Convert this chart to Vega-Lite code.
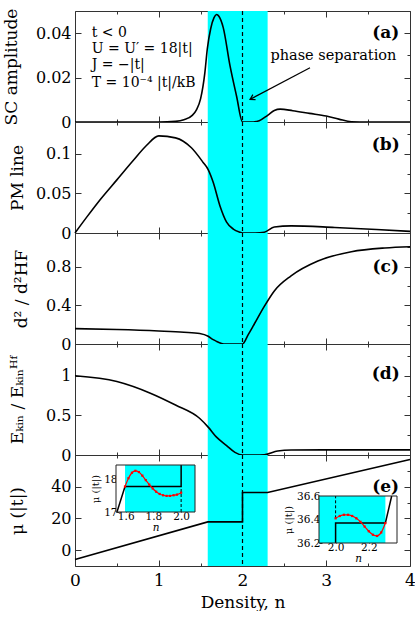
{
"$schema": "https://vega.github.io/schema/vega-lite/v6.json",
"padding": {"left": 1, "top": 7, "right": 0, "bottom": 0},
"spacing": 0,
"bounds": "flush",
"datasets": {
"sc": [{"n":0,"v":0},{"n":1.0,"v":0},{"n":1.2,"v":0.0003},{"n":1.3,"v":0.001},{"n":1.4,"v":0.003},{"n":1.45,"v":0.0055},{"n":1.5,"v":0.0105},{"n":1.55,"v":0.022},{"n":1.58,"v":0.033},{"n":1.62,"v":0.042},{"n":1.66,"v":0.047},{"n":1.69,"v":0.0484},{"n":1.72,"v":0.0475},{"n":1.77,"v":0.0425},{"n":1.85,"v":0.0255},{"n":1.93,"v":0.0115},{"n":2.0,"v":0},{"n":2.1,"v":0},{"n":2.2,"v":0.0006},{"n":2.3,"v":0.003},{"n":2.38,"v":0.0052},{"n":2.45,"v":0.0058},{"n":2.6,"v":0.0051},{"n":2.8,"v":0.0039},{"n":3.0,"v":0.0027},{"n":3.15,"v":0.0013},{"n":3.3,"v":0.0001},{"n":3.5,"v":0},{"n":4,"v":0}],
"pm": [{"n":0,"v":0},{"n":0.14,"v":0.02},{"n":0.3,"v":0.042},{"n":0.5,"v":0.067},{"n":0.7,"v":0.092},{"n":0.85,"v":0.11},{"n":1.0,"v":0.1225},{"n":1.2,"v":0.12},{"n":1.39,"v":0.1075},{"n":1.53,"v":0.089},{"n":1.59,"v":0.08},{"n":1.65,"v":0.064},{"n":1.73,"v":0.0345},{"n":1.81,"v":0.0138},{"n":1.89,"v":0.005},{"n":1.97,"v":0.001},{"n":2.0,"v":0},{"n":2.15,"v":0},{"n":2.26,"v":0.001},{"n":2.38,"v":0.0075},{"n":2.58,"v":0.009},{"n":3.1,"v":0.007},{"n":3.6,"v":0.0045},{"n":4,"v":0.002}],
"d2": [{"n":0,"v":0.159},{"n":0.5,"v":0.15},{"n":1.0,"v":0.135},{"n":1.3,"v":0.122},{"n":1.49,"v":0.108},{"n":1.59,"v":0.08},{"n":1.65,"v":0.045},{"n":1.69,"v":0.027},{"n":1.75,"v":0.006},{"n":1.8,"v":0},{"n":2.0,"v":0},{"n":2.07,"v":0.1},{"n":2.13,"v":0.19},{"n":2.26,"v":0.39},{"n":2.38,"v":0.55},{"n":2.58,"v":0.706},{"n":2.9,"v":0.86},{"n":3.3,"v":0.956},{"n":3.7,"v":0.995},{"n":4,"v":1.008}],
"ek": [{"n":0,"v":1.0},{"n":0.5,"v":0.927},{"n":0.9,"v":0.78},{"n":1.2,"v":0.63},{"n":1.49,"v":0.46},{"n":1.59,"v":0.352},{"n":1.69,"v":0.225},{"n":1.81,"v":0.119},{"n":1.91,"v":0.033},{"n":2.0,"v":0},{"n":2.15,"v":0},{"n":2.26,"v":0.004},{"n":2.42,"v":0.05},{"n":2.58,"v":0.064},{"n":3,"v":0.065},{"n":4,"v":0.065}],
"mu": [{"n":0,"v":-5.85},{"n":1.585,"v":17.8},{"n":2.0,"v":17.8},{"n":2.0,"v":36.37},{"n":2.3,"v":36.37},{"n":4,"v":57.2}],
"in1k": [{"n":1.537,"v":17},{"n":1.595,"v":17.79},{"n":2.0,"v":17.79},{"n":2.0,"v":18.46}],
"in1r": [{"n":1.595,"v":17.79},{"n":1.62,"v":18.05},{"n":1.645,"v":18.22},{"n":1.67,"v":18.28},{"n":1.695,"v":18.24},{"n":1.72,"v":18.13},{"n":1.745,"v":17.99},{"n":1.77,"v":17.85},{"n":1.795,"v":17.73},{"n":1.82,"v":17.63},{"n":1.845,"v":17.56},{"n":1.87,"v":17.52},{"n":1.895,"v":17.5},{"n":1.92,"v":17.5},{"n":1.945,"v":17.52},{"n":1.97,"v":17.54},{"n":2.0,"v":17.6}],
"in2k": [{"n":2.0,"v":36.2},{"n":2.0,"v":36.37},{"n":2.3,"v":36.37},{"n":2.338,"v":36.6}],
"in2r": [{"n":2.0,"v":36.41},{"n":2.025,"v":36.43},{"n":2.05,"v":36.44},{"n":2.075,"v":36.44},{"n":2.1,"v":36.43},{"n":2.125,"v":36.41},{"n":2.15,"v":36.38},{"n":2.175,"v":36.34},{"n":2.2,"v":36.3},{"n":2.225,"v":36.27},{"n":2.25,"v":36.26},{"n":2.275,"v":36.29},{"n":2.3,"v":36.37}]
},
"vconcat": [
{
"width": 335, "height": 111,
"layer": [
{"layer": [
{"data": {"values": [{"a": 1.585, "b": 2.3}]}, "mark": {"type": "rect", "color": "#00ffff"},
 "encoding": {"x": {"field": "a", "type": "quantitative", "scale": {"domain": [0, 4], "nice": false}, "axis": {"orient": "bottom", "values": [0,0.5,1,1.5,2,2.5,3,3.5,4], "labels": false, "title": null, "tickSize": {"condition": {"test": "datum.value % 1 == 0", "value": -6}, "value": -3}}}, "x2": {"field": "b"}}},
{"data": {"values": [{"a": 2}]}, "mark": {"type": "rule", "color": "black", "strokeDash": [4, 3], "strokeWidth": 1.2}, "encoding": {"x": {"field": "a", "type": "quantitative"}}},
{"data": {"name": "sc"}, "mark": {"type": "line", "color": "black", "strokeWidth": 1.6, "interpolate": "monotone"},
 "encoding": {"x": {"field": "n", "type": "quantitative"}, "y": {"field": "v", "type": "quantitative", "scale": {"domain": [0, 0.05], "nice": false}, "axis": {"orient": "left", "values": [0,0.01,0.02,0.03,0.04,0.05], "labelExpr": "(datum.value == 0 || datum.value == 0.02 || datum.value == 0.04) ? format(datum.value, '~g') : ''", "tickSize": {"condition": {"test": "datum.value == 0 || datum.value == 0.02 || datum.value == 0.04", "value": -6}, "value": -3}, "title": "SC amplitude", "titleX": -55}}}},
{"data": {"values": [{"n": 0.2, "v": 0.0403, "label": "t < 0"}, {"n": 0.2, "v": 0.0327, "label": "U = U′ = 18|t|"}, {"n": 0.2, "v": 0.0259, "label": "J = −|t|"}, {"n": 0.2, "v": 0.0174, "label": "T = 10⁻⁴ |t|/kB"}]},
 "mark": {"type": "text", "align": "left", "baseline": "middle", "fontSize": 14, "font": "DejaVu Serif"},
 "encoding": {"x": {"field": "n", "type": "quantitative"}, "y": {"field": "v", "type": "quantitative"}, "text": {"field": "label"}}},
{"data": {"values": [{"n": 3.085, "v": 0.0297, "label": "phase separation"}]},
 "mark": {"type": "text", "align": "center", "baseline": "middle", "fontSize": 14.5, "font": "DejaVu Serif"},
 "encoding": {"x": {"field": "n", "type": "quantitative"}, "y": {"field": "v", "type": "quantitative"}, "text": {"field": "label"}}},
{"data": {"values": [{"n": 2.806, "v": 0.02445, "n2": 2.09, "v2": 0.0102}]}, "mark": {"type": "rule", "color": "black", "strokeWidth": 1.2},
 "encoding": {"x": {"field": "n", "type": "quantitative"}, "y": {"field": "v", "type": "quantitative"}, "x2": {"field": "n2"}, "y2": {"field": "v2"}}},
{"data": {"values": [{"n": 2.09, "v": 0.0102}]}, "mark": {"type": "point", "shape": "M -1 -0.6 L 0 0 L -1 0.6", "filled": false, "stroke": "black", "strokeWidth": 1.2, "size": 90, "angle": 152, "opacity": 1},
 "encoding": {"x": {"field": "n", "type": "quantitative"}, "y": {"field": "v", "type": "quantitative"}}},
{"data": {"values": [{"n": 3.71, "v": 0.0402, "label": "(a)"}]},
 "mark": {"type": "text", "align": "center", "baseline": "middle", "fontSize": 17, "fontWeight": "bold", "font": "DejaVu Serif"},
 "encoding": {"x": {"field": "n", "type": "quantitative"}, "y": {"field": "v", "type": "quantitative"}, "text": {"field": "label"}}}
]},
{"data": {"name": "sc"}, "mark": {"type": "point", "opacity": 0},
 "encoding": {"x": {"field": "n", "type": "quantitative", "scale": {"domain": [0, 4], "nice": false}, "axis": {"orient": "top", "values": [0,0.5,1,1.5,2,2.5,3,3.5,4], "labels": false, "title": null, "tickSize": {"condition": {"test": "datum.value % 1 == 0", "value": -6}, "value": -3}}},
  "y": {"field": "v", "type": "quantitative", "scale": {"domain": [0, 0.05], "nice": false}, "axis": {"orient": "right", "values": [0,0.01,0.02,0.03,0.04,0.05], "labels": false, "title": null, "tickSize": {"condition": {"test": "datum.value == 0 || datum.value == 0.02 || datum.value == 0.04", "value": -6}, "value": -3}}}}}
],
"resolve": {"scale": {"x": "independent", "y": "independent"}}
},
{
"width": 335, "height": 111,
"layer": [
{"layer": [
{"data": {"values": [{"a": 1.585, "b": 2.3}]}, "mark": {"type": "rect", "color": "#00ffff"},
 "encoding": {"x": {"field": "a", "type": "quantitative", "scale": {"domain": [0, 4], "nice": false}, "axis": {"orient": "bottom", "values": [0,0.5,1,1.5,2,2.5,3,3.5,4], "labels": false, "title": null, "tickSize": {"condition": {"test": "datum.value % 1 == 0", "value": -6}, "value": -3}}}, "x2": {"field": "b"}}},
{"data": {"values": [{"a": 2}]}, "mark": {"type": "rule", "color": "black", "strokeDash": [4, 3], "strokeWidth": 1.2}, "encoding": {"x": {"field": "a", "type": "quantitative"}}},
{"data": {"name": "pm"}, "mark": {"type": "line", "color": "black", "strokeWidth": 1.6, "interpolate": "monotone"},
 "encoding": {"x": {"field": "n", "type": "quantitative"}, "y": {"field": "v", "type": "quantitative", "scale": {"domain": [0, 0.14], "nice": false}, "axis": {"orient": "left", "values": [0,0.025,0.05,0.075,0.1,0.125], "labelExpr": "(datum.value == 0 || datum.value == 0.05 || datum.value == 0.1) ? format(datum.value, '~g') : ''", "tickSize": {"condition": {"test": "datum.value == 0 || datum.value == 0.05 || datum.value == 0.1", "value": -6}, "value": -3}, "title": "PM line", "titleX": -49}}}},
{"data": {"values": [{"n": 3.71, "v": 0.1116, "label": "(b)"}]},
 "mark": {"type": "text", "align": "center", "baseline": "middle", "fontSize": 17, "fontWeight": "bold", "font": "DejaVu Serif"},
 "encoding": {"x": {"field": "n", "type": "quantitative"}, "y": {"field": "v", "type": "quantitative"}, "text": {"field": "label"}}}
]},
{"data": {"name": "pm"}, "mark": {"type": "point", "opacity": 0},
 "encoding": {"x": {"field": "n", "type": "quantitative", "scale": {"domain": [0, 4], "nice": false}, "axis": {"orient": "top", "values": [0,0.5,1,1.5,2,2.5,3,3.5,4], "labels": false, "title": null, "tickSize": {"condition": {"test": "datum.value % 1 == 0", "value": -6}, "value": -3}}},
  "y": {"field": "v", "type": "quantitative", "scale": {"domain": [0, 0.14], "nice": false}, "axis": {"orient": "right", "values": [0,0.025,0.05,0.075,0.1,0.125], "labels": false, "title": null, "tickSize": {"condition": {"test": "datum.value == 0 || datum.value == 0.05 || datum.value == 0.1", "value": -6}, "value": -3}}}}}
],
"resolve": {"scale": {"x": "independent", "y": "independent"}}
},
{
"width": 335, "height": 111,
"layer": [
{"layer": [
{"data": {"values": [{"a": 1.585, "b": 2.3}]}, "mark": {"type": "rect", "color": "#00ffff"},
 "encoding": {"x": {"field": "a", "type": "quantitative", "scale": {"domain": [0, 4], "nice": false}, "axis": {"orient": "bottom", "values": [0,0.5,1,1.5,2,2.5,3,3.5,4], "labels": false, "title": null, "tickSize": {"condition": {"test": "datum.value % 1 == 0", "value": -6}, "value": -3}}}, "x2": {"field": "b"}}},
{"data": {"values": [{"a": 2}]}, "mark": {"type": "rule", "color": "black", "strokeDash": [4, 3], "strokeWidth": 1.2}, "encoding": {"x": {"field": "a", "type": "quantitative"}}},
{"data": {"name": "d2"}, "mark": {"type": "line", "color": "black", "strokeWidth": 1.6, "interpolate": "monotone"},
 "encoding": {"x": {"field": "n", "type": "quantitative"}, "y": {"field": "v", "type": "quantitative", "scale": {"domain": [0, 1.15], "nice": false}, "axis": {"orient": "left", "values": [0,0.2,0.4,0.6,0.8,1.0], "labelExpr": "(datum.value == 0 || datum.value == 0.4 || datum.value == 0.8) ? format(datum.value, '~g') : ''", "tickSize": {"condition": {"test": "datum.value == 0 || datum.value == 0.4 || datum.value == 0.8", "value": -6}, "value": -3}, "title": "d² / d²HF", "titleX": -45}}}},
{"data": {"values": [{"n": 3.71, "v": 0.8, "label": "(c)"}]},
 "mark": {"type": "text", "align": "center", "baseline": "middle", "fontSize": 17, "fontWeight": "bold", "font": "DejaVu Serif"},
 "encoding": {"x": {"field": "n", "type": "quantitative"}, "y": {"field": "v", "type": "quantitative"}, "text": {"field": "label"}}}
]},
{"data": {"name": "d2"}, "mark": {"type": "point", "opacity": 0},
 "encoding": {"x": {"field": "n", "type": "quantitative", "scale": {"domain": [0, 4], "nice": false}, "axis": {"orient": "top", "values": [0,0.5,1,1.5,2,2.5,3,3.5,4], "labels": false, "title": null, "tickSize": {"condition": {"test": "datum.value % 1 == 0", "value": -6}, "value": -3}}},
  "y": {"field": "v", "type": "quantitative", "scale": {"domain": [0, 1.15], "nice": false}, "axis": {"orient": "right", "values": [0,0.2,0.4,0.6,0.8,1.0], "labels": false, "title": null, "tickSize": {"condition": {"test": "datum.value == 0 || datum.value == 0.4 || datum.value == 0.8", "value": -6}, "value": -3}}}}}
],
"resolve": {"scale": {"x": "independent", "y": "independent"}}
},
{
"width": 335, "height": 111,
"layer": [
{"layer": [
{"data": {"values": [{"a": 1.585, "b": 2.3}]}, "mark": {"type": "rect", "color": "#00ffff"},
 "encoding": {"x": {"field": "a", "type": "quantitative", "scale": {"domain": [0, 4], "nice": false}, "axis": {"orient": "bottom", "values": [0,0.5,1,1.5,2,2.5,3,3.5,4], "labels": false, "title": null, "tickSize": {"condition": {"test": "datum.value % 1 == 0", "value": -6}, "value": -3}}}, "x2": {"field": "b"}}},
{"data": {"values": [{"a": 2}]}, "mark": {"type": "rule", "color": "black", "strokeDash": [4, 3], "strokeWidth": 1.2}, "encoding": {"x": {"field": "a", "type": "quantitative"}}},
{"data": {"name": "ek"}, "mark": {"type": "line", "color": "black", "strokeWidth": 1.6, "interpolate": "monotone"},
 "encoding": {"x": {"field": "n", "type": "quantitative"}, "y": {"field": "v", "type": "quantitative", "scale": {"domain": [0, 1.4], "nice": false}, "axis": {"orient": "left", "values": [0,0.25,0.5,0.75,1,1.25], "labelExpr": "(datum.value == 0 || datum.value == 0.5 || datum.value == 1) ? format(datum.value, '~g') : ''", "tickSize": {"condition": {"test": "datum.value == 0 || datum.value == 0.5 || datum.value == 1", "value": -6}, "value": -3}, "title": "Eₖᵢₙ / Eₖᵢₙᴴᶠ", "titleX": -49}}}},
{"data": {"values": [{"n": 3.71, "v": 1.02, "label": "(d)"}]},
 "mark": {"type": "text", "align": "center", "baseline": "middle", "fontSize": 17, "fontWeight": "bold", "font": "DejaVu Serif"},
 "encoding": {"x": {"field": "n", "type": "quantitative"}, "y": {"field": "v", "type": "quantitative"}, "text": {"field": "label"}}}
]},
{"data": {"name": "ek"}, "mark": {"type": "point", "opacity": 0},
 "encoding": {"x": {"field": "n", "type": "quantitative", "scale": {"domain": [0, 4], "nice": false}, "axis": {"orient": "top", "values": [0,0.5,1,1.5,2,2.5,3,3.5,4], "labels": false, "title": null, "tickSize": {"condition": {"test": "datum.value % 1 == 0", "value": -6}, "value": -3}}},
  "y": {"field": "v", "type": "quantitative", "scale": {"domain": [0, 1.4], "nice": false}, "axis": {"orient": "right", "values": [0,0.25,0.5,0.75,1,1.25], "labels": false, "title": null, "tickSize": {"condition": {"test": "datum.value == 0 || datum.value == 0.5 || datum.value == 1", "value": -6}, "value": -3}}}}}
],
"resolve": {"scale": {"x": "independent", "y": "independent"}}
},
{
"width": 335, "height": 111,
"layer": [
{"layer": [
{"data": {"values": [{"a": 1.585, "b": 2.3}]}, "mark": {"type": "rect", "color": "#00ffff"},
 "encoding": {"x": {"field": "a", "type": "quantitative", "scale": {"domain": [0, 4], "nice": false}, "axis": {"orient": "bottom", "values": [0,0.5,1,1.5,2,2.5,3,3.5,4], "labelExpr": "datum.value % 1 == 0 ? format(datum.value, '~g') : ''", "labelFontSize": 17, "labelPadding": 12, "title": "Density, n", "titlePadding": 3, "tickSize": {"condition": {"test": "datum.value % 1 == 0", "value": -6}, "value": -3}}}, "x2": {"field": "b"}}},
{"data": {"values": [{"a": 2}]}, "mark": {"type": "rule", "color": "black", "strokeDash": [4, 3], "strokeWidth": 1.2}, "encoding": {"x": {"field": "a", "type": "quantitative"}}},
{"data": {"name": "mu"}, "mark": {"type": "line", "color": "black", "strokeWidth": 1.6},
 "encoding": {"x": {"field": "n", "type": "quantitative"}, "y": {"field": "v", "type": "quantitative", "scale": {"domain": [-10, 60], "nice": false, "zero": false}, "axis": {"orient": "left", "values": [0,10,20,30,40,50], "labelExpr": "(datum.value == 0 || datum.value == 20 || datum.value == 40) ? format(datum.value, '~g') : ''", "tickSize": {"condition": {"test": "datum.value == 0 || datum.value == 20 || datum.value == 40", "value": -6}, "value": -3}, "title": "μ (|t|)", "titleX": -49}}}},
{"data": {"values": [{"n": 3.71, "v": 39.8, "label": "(e)"}]},
 "mark": {"type": "text", "align": "center", "baseline": "middle", "fontSize": 17, "fontWeight": "bold", "font": "DejaVu Serif"},
 "encoding": {"x": {"field": "n", "type": "quantitative"}, "y": {"field": "v", "type": "quantitative"}, "text": {"field": "label"}}}
]},
{"data": {"name": "mu"}, "mark": {"type": "point", "opacity": 0},
 "encoding": {"x": {"field": "n", "type": "quantitative", "scale": {"domain": [0, 4], "nice": false}, "axis": {"orient": "top", "values": [0,0.5,1,1.5,2,2.5,3,3.5,4], "labels": false, "title": null, "tickSize": {"condition": {"test": "datum.value % 1 == 0", "value": -6}, "value": -3}}},
  "y": {"field": "v", "type": "quantitative", "scale": {"domain": [-10, 60], "nice": false, "zero": false}, "axis": {"orient": "right", "values": [0,10,20,30,40,50], "labels": false, "title": null, "tickSize": {"condition": {"test": "datum.value == 0 || datum.value == 20 || datum.value == 40", "value": -6}, "value": -3}}}}},
{"layer": [
{"data": {"values": [{"x1": 1.53, "x2": 2.1, "y1": 17, "y2": 18.46}]}, "mark": {"type": "rect", "fill": "white"},
 "encoding": {"x": {"field": "x1", "type": "quantitative", "scale": {"domain": [1.53, 2.1], "range": [41, 120], "nice": false, "zero": false}, "axis": {"orient": "bottom", "offset": -54, "values": [1.6, 1.8, 2.0], "labelExpr": "format(datum.value, '.1f')", "labelFontSize": 10.5, "labelPadding": 2, "tickSize": -3, "title": "n", "titleFontSize": 10.5, "titleFontStyle": "italic", "titlePadding": 1}}, "x2": {"field": "x2"},
  "y": {"field": "y1", "type": "quantitative", "scale": {"domain": [17, 18.46], "range": [57, 10], "nice": false, "zero": false}, "axis": {"orient": "left", "offset": -41, "values": [17, 18], "labelExpr": "format(datum.value, '~g')", "labelFontSize": 10.5, "labelPadding": 2, "tickSize": -3, "title": "μ (|t|)", "titleFontSize": 10, "titlePadding": 3}}, "y2": {"field": "y2"}}},
{"data": {"values": [{"x1": 1.595, "x2": 2.1, "y1": 17, "y2": 18.46}]}, "mark": {"type": "rect", "fill": "#00ffff"},
 "encoding": {"x": {"field": "x1", "type": "quantitative"}, "x2": {"field": "x2"}, "y": {"field": "y1", "type": "quantitative"}, "y2": {"field": "y2"}}},
{"data": {"values": [{"n": 2.0, "y1": 17, "y2": 17.79}]}, "mark": {"type": "rule", "color": "black", "strokeDash": [3, 2], "strokeWidth": 1},
 "encoding": {"x": {"field": "n", "type": "quantitative"}, "y": {"field": "y1", "type": "quantitative"}, "y2": {"field": "y2"}}},
{"data": {"name": "in1k"}, "mark": {"type": "line", "color": "black", "strokeWidth": 1.5},
 "encoding": {"x": {"field": "n", "type": "quantitative"}, "y": {"field": "v", "type": "quantitative"}}},
{"data": {"name": "in1r"}, "mark": {"type": "line", "color": "red", "strokeWidth": 1.2, "interpolate": "monotone", "point": {"shape": "square", "size": 5, "color": "red", "filled": true}},
 "encoding": {"x": {"field": "n", "type": "quantitative"}, "y": {"field": "v", "type": "quantitative"}}},
{"data": {"values": [{"x1": 1.53, "x2": 2.1, "y1": 17, "y2": 18.46}]}, "mark": {"type": "rect", "fillOpacity": 0, "stroke": "#222", "strokeWidth": 1},
 "encoding": {"x": {"field": "x1", "type": "quantitative"}, "x2": {"field": "x2"}, "y": {"field": "y1", "type": "quantitative"}, "y2": {"field": "y2"}}}
]},
{"layer": [
{"data": {"values": [{"x1": 1.9, "x2": 2.37, "y1": 36.2, "y2": 36.6}]}, "mark": {"type": "rect", "fill": "white"},
 "encoding": {"x": {"field": "x1", "type": "quantitative", "scale": {"domain": [1.9, 2.37], "range": [244, 322], "nice": false, "zero": false}, "axis": {"orient": "bottom", "offset": -23, "values": [2.0, 2.2], "labelExpr": "format(datum.value, '.1f')", "labelFontSize": 10.5, "labelPadding": 2, "tickSize": -3, "title": "n", "titleFontSize": 10.5, "titleFontStyle": "italic", "titlePadding": 1}}, "x2": {"field": "x2"},
  "y": {"field": "y1", "type": "quantitative", "scale": {"domain": [36.2, 36.6], "range": [88, 41], "nice": false, "zero": false}, "axis": {"orient": "left", "offset": -244, "values": [36.2, 36.4, 36.6], "labelExpr": "format(datum.value, '.1f')", "labelFontSize": 10.5, "labelPadding": 2, "tickSize": -3, "title": "μ (|t|)", "titleFontSize": 10, "titlePadding": 3}}, "y2": {"field": "y2"}}},
{"data": {"values": [{"x1": 1.9, "x2": 2.3, "y1": 36.2, "y2": 36.6}]}, "mark": {"type": "rect", "fill": "#00ffff"},
 "encoding": {"x": {"field": "x1", "type": "quantitative"}, "x2": {"field": "x2"}, "y": {"field": "y1", "type": "quantitative"}, "y2": {"field": "y2"}}},
{"data": {"values": [{"n": 2.0, "y1": 36.41, "y2": 36.6}]}, "mark": {"type": "rule", "color": "black", "strokeDash": [3, 2], "strokeWidth": 1},
 "encoding": {"x": {"field": "n", "type": "quantitative"}, "y": {"field": "y1", "type": "quantitative"}, "y2": {"field": "y2"}}},
{"data": {"name": "in2k"}, "mark": {"type": "line", "color": "black", "strokeWidth": 1.5},
 "encoding": {"x": {"field": "n", "type": "quantitative"}, "y": {"field": "v", "type": "quantitative"}}},
{"data": {"name": "in2r"}, "mark": {"type": "line", "color": "red", "strokeWidth": 1.2, "interpolate": "monotone", "point": {"shape": "square", "size": 5, "color": "red", "filled": true}},
 "encoding": {"x": {"field": "n", "type": "quantitative"}, "y": {"field": "v", "type": "quantitative"}}},
{"data": {"values": [{"x1": 1.9, "x2": 2.37, "y1": 36.2, "y2": 36.6}]}, "mark": {"type": "rect", "fillOpacity": 0, "stroke": "#222", "strokeWidth": 1},
 "encoding": {"x": {"field": "x1", "type": "quantitative"}, "x2": {"field": "x2"}, "y": {"field": "y1", "type": "quantitative"}, "y2": {"field": "y2"}}}
]}
],
"resolve": {"scale": {"x": "independent", "y": "independent"}}
}
],
"config": {
"view": {"stroke": "#333", "strokeWidth": 1},
"axis": {"grid": false, "domain": false, "labelFont": "DejaVu Serif", "labelFontSize": 16, "labelColor": "black", "titleFont": "DejaVu Serif", "titleFontSize": 17, "titleFontWeight": "normal", "titleColor": "black", "tickColor": "#333", "labelOverlap": false, "labelFlush": false, "labelBound": false, "labelPadding": 10},
"text": {"font": "DejaVu Serif"}
}
}
